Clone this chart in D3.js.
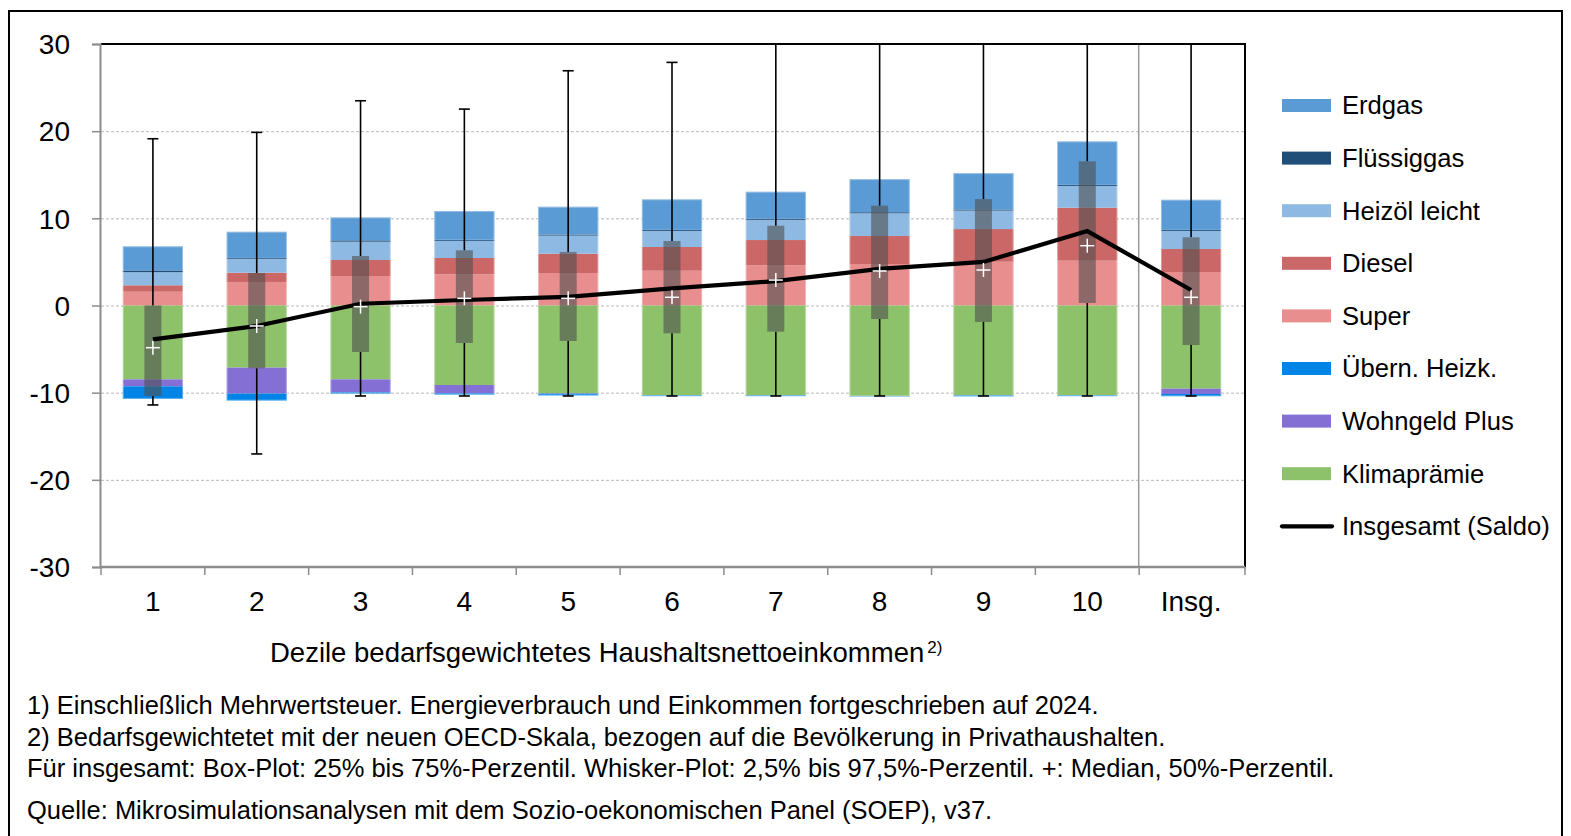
<!DOCTYPE html>
<html lang="de">
<head>
<meta charset="utf-8">
<script src="https://cdn.jsdelivr.net/npm/d3@7"></script>
<style>
  html, body { margin: 0; padding: 0; background: #fff; }
  svg { display: block; font-family: "Liberation Sans", Arial, sans-serif; }
</style>
</head>
<body>
<svg id="chart" width="1571" height="836"></svg>
<script>
// Dezile des bedarfsgewichteten Haushaltsnettoeinkommens plus Gesamtwert
const categories = ["1", "2", "3", "4", "5", "6", "7", "8", "9", "10", "Insg."];

// Belastung (positiv) und Entlastung (negativ) je Komponente, Euro pro Monat
const erdgas       = [2.77, 3.00, 2.64, 3.30, 3.19, 3.50, 3.10, 3.80, 4.18, 4.99, 3.45];
const fluessiggas  = [0.20, 0.10, 0.15, 0.12, 0.12, 0.12, 0.12, 0.12, 0.12, 0.12, 0.12];
const heizoel      = [1.50, 1.60, 2.10, 1.97, 2.08, 1.85, 2.32, 2.61, 2.12, 2.50, 2.08];
const diesel       = [0.74, 1.06, 1.84, 1.87, 2.21, 2.72, 2.90, 3.21, 3.75, 6.08, 2.64];
const superBenzin  = [1.58, 2.70, 3.38, 3.58, 3.73, 3.99, 4.61, 4.76, 5.02, 5.14, 3.84];
const uebernHeizk  = [-1.45, -0.80, -0.15, -0.16, -0.20, -0.10, -0.10, -0.05, -0.12, -0.10, -0.26];
const wohngeld     = [-0.80, -2.98, -1.49, -0.95, -0.05, 0, 0, 0, 0, 0, -0.61];
const klimapraemie = [-8.47, -7.13, -8.47, -9.12, -10.07, -10.30, -10.30, -10.38, -10.30, -10.30, -9.54];

// Saldo (Linie)
const saldo = [-3.88, -2.35, 0.20, 0.63, 1.00, 1.97, 2.80, 4.20, 5.00, 8.54, 1.78];

// Verteilung des Saldos: Box 25%-75%, Whisker 2,5%-97,5%, Median
const p2_5  = [-11.41, -17.03, -10.38, -10.38, -10.38, -10.38, -10.38, -10.38, -10.38, -10.38, -10.38];
const p25   = [-10.38, -7.20, -5.33, -4.30, -4.07, -3.19, -3.00, -1.55, -1.89, 0.29, -4.53];
const p50   = [-4.84, -2.35, -0.13, 0.82, 0.82, 0.94, 2.92, 3.96, 4.07, 6.86, 0.94];
const p75   = [0.00, 3.73, 5.68, 6.33, 6.14, 7.40, 9.15, 11.45, 12.21, 16.54, 7.82];
const p97_5 = [19.13, 19.86, 23.49, 22.53, 26.93, 27.89, 33.0, 36.0, 38.0, 45.0, 35.0];

const yTicks = [30, 20, 10, 0, -10, -20, -30];

const series = [
  { key: "superBenzin",  label: "Super",          values: superBenzin,  color: "#e88e8e" },
  { key: "diesel",       label: "Diesel",         values: diesel,       color: "#cb6767" },
  { key: "heizoel",      label: "Heizöl leicht",  values: heizoel,      color: "#8eb9e2" },
  { key: "fluessiggas",  label: "Flüssiggas",     values: fluessiggas,  color: "#1f4e79" },
  { key: "erdgas",       label: "Erdgas",         values: erdgas,       color: "#5b9bd5" },
  { key: "klimapraemie", label: "Klimaprämie",    values: klimapraemie, color: "#8dc26b" },
  { key: "wohngeld",     label: "Wohngeld Plus",  values: wohngeld,     color: "#8470d4" },
  { key: "uebernHeizk",  label: "Übern. Heizk.",  values: uebernHeizk,  color: "#0085e6" }
];
const legendOrder = ["erdgas", "fluessiggas", "heizoel", "diesel", "superBenzin", "uebernHeizk", "wohngeld", "klimapraemie"];

const svg = d3.select("#chart");

// Rahmen um die gesamte Grafik
svg.append("rect")
  .attr("x", 9).attr("y", 11).attr("width", 1553).attr("height", 840)
  .attr("fill", "none").attr("stroke", "#000").attr("stroke-width", 2);

const plot = { left: 101, right: 1243, top: 44, bottom: 567 };

const x = d3.scaleBand()
  .domain(categories)
  .range([plot.left, plot.right])
  .paddingInner(0.42)
  .paddingOuter(0.21);
const step = x.step();

const y = d3.scaleLinear().domain([-30, 30]).range([plot.bottom, plot.top]);

// Gitterlinien
svg.append("g")
  .selectAll("line")
  .data(yTicks.filter(t => t !== 30 && t !== -30))
  .join("line")
  .attr("x1", plot.left).attr("x2", plot.right + 2)
  .attr("y1", d => y(d) + 0.5).attr("y2", d => y(d) + 0.5)
  .attr("stroke", "#b8b8b8").attr("stroke-width", 1)
  .attr("stroke-dasharray", "3,2");

// Trennlinie zwischen Dezilen und Gesamtwert
svg.append("line")
  .attr("x1", x("Insg.") - step * 0.21 - 0.5).attr("x2", x("Insg.") - step * 0.21 - 0.5)
  .attr("y1", plot.top).attr("y2", plot.bottom)
  .attr("stroke", "#999").attr("stroke-width", 1.5);

// Gestapelte Balken
const rows = categories.map((c, i) => {
  const r = { cat: c };
  series.forEach(s => { r[s.key] = s.values[i]; });
  return r;
});
const stacked = d3.stack()
  .keys(series.map(s => s.key))
  .offset(d3.stackOffsetDiverging)(rows);
const colorOf = Object.fromEntries(series.map(s => [s.key, s.color]));

svg.append("g")
  .selectAll("g")
  .data(stacked)
  .join("g")
  .attr("fill", d => colorOf[d.key])
  .selectAll("rect")
  .data(d => d)
  .join("rect")
  .attr("x", d => x(d.data.cat))
  .attr("width", x.bandwidth())
  .attr("y", d => y(Math.max(d[0], d[1])))
  .attr("height", d => Math.abs(y(d[0]) - y(d[1])));

// Schwache Aufhellung an den Balkenrändern
const posTotal = i => erdgas[i] + fluessiggas[i] + heizoel[i] + diesel[i] + superBenzin[i];
const negTotal = i => klimapraemie[i] + wohngeld[i] + uebernHeizk[i];
svg.append("g")
  .selectAll("rect")
  .data(categories)
  .join("rect")
  .attr("x", d => x(d) + 0.5)
  .attr("width", x.bandwidth() - 1)
  .attr("y", (d, i) => y(posTotal(i)) + 0.5)
  .attr("height", (d, i) => y(negTotal(i)) - y(posTotal(i)) - 1)
  .attr("fill", "none")
  .attr("stroke", "rgba(255,255,255,0.35)")
  .attr("stroke-width", 1);

// Clip auf Zeichenfläche für die Whisker
svg.append("clipPath").attr("id", "plotClip")
  .append("rect")
  .attr("x", plot.left).attr("y", plot.top)
  .attr("width", plot.right - plot.left).attr("height", plot.bottom - plot.top);

const cx = c => x(c) + x.bandwidth() / 2;
const boxW = 17, capW = 11;

const whisk = svg.append("g").attr("clip-path", "url(#plotClip)")
  .attr("stroke", "#000").attr("stroke-width", 1.6);
categories.forEach((c, i) => {
  whisk.append("line")
    .attr("x1", cx(c)).attr("x2", cx(c))
    .attr("y1", y(p97_5[i])).attr("y2", y(p75[i]));
  whisk.append("line")
    .attr("x1", cx(c)).attr("x2", cx(c))
    .attr("y1", y(p25[i])).attr("y2", y(p2_5[i]));
  whisk.append("line")
    .attr("x1", cx(c) - capW / 2).attr("x2", cx(c) + capW / 2)
    .attr("y1", y(p97_5[i])).attr("y2", y(p97_5[i]));
  whisk.append("line")
    .attr("x1", cx(c) - capW / 2).attr("x2", cx(c) + capW / 2)
    .attr("y1", y(p2_5[i])).attr("y2", y(p2_5[i]));
});

// Boxen
svg.append("g")
  .selectAll("rect")
  .data(categories)
  .join("rect")
  .attr("x", d => cx(d) - boxW / 2)
  .attr("width", boxW)
  .attr("y", (d, i) => y(p75[i]))
  .attr("height", (d, i) => Math.max(0, y(p25[i]) - y(p75[i])))
  .attr("fill", "rgba(78,78,78,0.6)");

// Saldo-Linie
svg.append("path")
  .datum(categories.map((c, i) => [cx(c), y(saldo[i])]))
  .attr("d", d3.line())
  .attr("fill", "none")
  .attr("stroke", "#000")
  .attr("stroke-width", 4.2)
  .attr("stroke-linejoin", "miter");

// Median-Kreuze
const cross = svg.append("g").attr("stroke", "#fff").attr("stroke-width", 1.5);
categories.forEach((c, i) => {
  const my = y(p50[i]);
  cross.append("line").attr("x1", cx(c) - 7).attr("x2", cx(c) + 7).attr("y1", my).attr("y2", my);
  cross.append("line").attr("x1", cx(c)).attr("x2", cx(c)).attr("y1", my - 7).attr("y2", my + 7);
});

// Achsen und Rahmen der Zeichenfläche
const axisGray = "#8c8c8c";
svg.append("line")
  .attr("x1", plot.left).attr("x2", plot.right + 2)
  .attr("y1", plot.top).attr("y2", plot.top)
  .attr("stroke", "#000").attr("stroke-width", 2);
svg.append("line")
  .attr("x1", plot.right + 2).attr("x2", plot.right + 2)
  .attr("y1", plot.top - 1).attr("y2", plot.bottom)
  .attr("stroke", "#000").attr("stroke-width", 2);

const yAxis = svg.append("g")
  .attr("transform", `translate(${plot.left - 1},0)`)
  .call(d3.axisLeft(y).tickValues(yTicks).tickSize(8).tickPadding(22).tickFormat(d => String(d)));
yAxis.select(".domain").attr("stroke", axisGray).attr("stroke-width", 2);
yAxis.selectAll(".tick line").attr("stroke", axisGray).attr("stroke-width", 1.5);
yAxis.selectAll(".tick text")
  .attr("fill", "#000")
  .style("font-size", "28px")
  .style("font-family", "'Liberation Sans', Arial, sans-serif")
  .attr("dy", "0.35em");

const xAxis = svg.append("g").attr("transform", `translate(0,${plot.bottom})`);
xAxis.append("line")
  .attr("x1", plot.left - 1).attr("x2", plot.right + 2)
  .attr("y1", 0).attr("y2", 0)
  .attr("stroke", axisGray).attr("stroke-width", 2.5);
xAxis.selectAll("line.tick")
  .data(d3.range(categories.length + 1))
  .join("line")
  .attr("class", "tick")
  .attr("x1", i => plot.left + i * step + (i === categories.length ? 2 : 0))
  .attr("x2", i => plot.left + i * step + (i === categories.length ? 2 : 0))
  .attr("y1", 0).attr("y2", 8)
  .attr("stroke", axisGray).attr("stroke-width", 1.5);
xAxis.selectAll("text")
  .data(categories)
  .join("text")
  .attr("x", d => cx(d))
  .attr("y", 44)
  .attr("text-anchor", "middle")
  .style("font-size", "28px")
  .text(d => d);

// Achsentitel
const title = svg.append("text")
  .attr("x", 270).attr("y", 662)
  .style("font-size", "27.5px");
title.append("tspan").text("Dezile bedarfsgewichtetes Haushaltsnettoeinkommen");
title.append("tspan").attr("dy", -9).attr("dx", 3).style("font-size", "17px").text("2)");

// Legende
const legend = svg.append("g");
const lx = 1280, ly0 = 105.5, lstep = 52.6;
legendOrder.forEach((k, i) => {
  const s = series.find(s => s.key === k);
  legend.append("rect")
    .attr("x", lx + 2).attr("y", ly0 + i * lstep - 6.5)
    .attr("width", 49).attr("height", 13)
    .attr("fill", s.color);
  legend.append("text")
    .attr("x", 1342).attr("y", ly0 + i * lstep)
    .attr("dy", "0.35em")
    .style("font-size", "25.6px")
    .text(s.label);
});
const lineRow = legendOrder.length;
legend.append("line")
  .attr("x1", lx + 2).attr("x2", lx + 52)
  .attr("y1", ly0 + lineRow * lstep).attr("y2", ly0 + lineRow * lstep)
  .attr("stroke", "#000").attr("stroke-width", 4.2).attr("stroke-linecap", "round");
legend.append("text")
  .attr("x", 1342).attr("y", ly0 + lineRow * lstep)
  .attr("dy", "0.35em")
  .style("font-size", "25.6px")
  .text("Insgesamt (Saldo)");

// Fußnoten
const notes = [
  { y: 714, text: "1) Einschließlich Mehrwertsteuer. Energieverbrauch und Einkommen fortgeschrieben auf 2024." },
  { y: 746, text: "2) Bedarfsgewichtetet mit der neuen OECD-Skala, bezogen auf die Bevölkerung in Privathaushalten." },
  { y: 777, text: "Für insgesamt: Box-Plot: 25% bis 75%-Perzentil. Whisker-Plot: 2,5% bis 97,5%-Perzentil. +: Median, 50%-Perzentil." },
  { y: 819, text: "Quelle: Mikrosimulationsanalysen mit dem Sozio-oekonomischen Panel (SOEP), v37." }
];
svg.append("g")
  .selectAll("text")
  .data(notes)
  .join("text")
  .attr("x", 27)
  .attr("y", d => d.y)
  .style("font-size", "25.5px")
  .text(d => d.text);
</script>
</body>
</html>
